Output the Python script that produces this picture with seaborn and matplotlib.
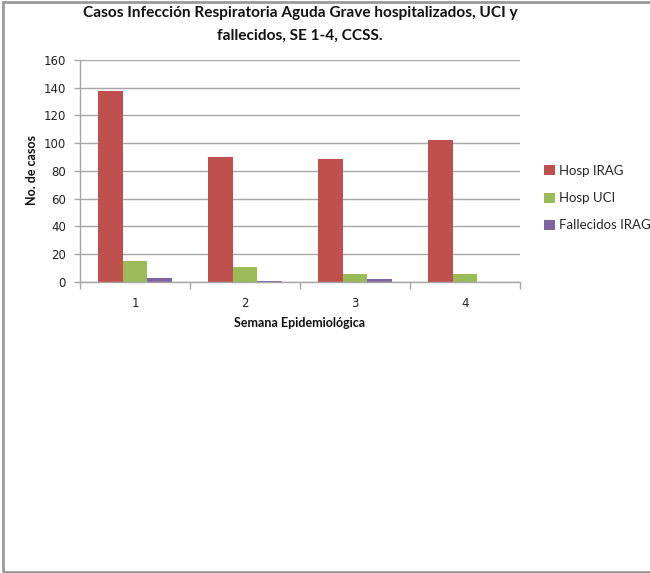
import matplotlib
matplotlib.use("Agg")
import matplotlib.pyplot as plt
from matplotlib.patches import Rectangle, Patch
import seaborn as sns
import pandas as pd

weeks = ["1", "2", "3", "4"]
hosp_irag = [138, 90, 89, 102]
hosp_uci = [15, 11, 6, 6]
fallecidos_irag = [3, 1, 2, 0]
series_names = ["Hosp IRAG", "Hosp UCI", "Fallecidos IRAG"]
colors = ["#C0504D", "#9BBB59", "#8064A2"]

df = pd.DataFrame({
    "Semana": weeks * 3,
    "Casos": hosp_irag + hosp_uci + fallecidos_irag,
    "Serie": [s for s in series_names for _ in weeks],
})

sns.set_theme(style="white")
plt.rcParams["font.family"] = ["Lato", "DejaVu Sans"]

fig = plt.figure(figsize=(6.5, 5.73), dpi=100)
W, H = 650, 573
ax = fig.add_axes([80 / W, 1 - 282 / H, 440 / W, 222 / H])

sns.barplot(data=df, x="Semana", y="Casos", hue="Serie", palette=colors,
            width=0.667, gap=0, saturation=1, ax=ax, legend=False,
            edgecolor="none", linewidth=0)

grid_c = "#A6A6A6"
ax.set_ylim(0, 160)
ax.set_yticks(range(0, 161, 20))
ax.yaxis.grid(True, color=grid_c, linewidth=1)
ax.set_axisbelow(True)
for s in ["top", "right"]:
    ax.spines[s].set_visible(False)
ax.spines["left"].set_color(grid_c)
ax.spines["bottom"].set_color(grid_c)
ax.spines["left"].set_linewidth(1)
ax.spines["bottom"].set_linewidth(1)

ax.set_xlim(-0.5, 3.5)
ax.set_xticks([-0.5, 0.5, 1.5, 2.5, 3.5])
ax.set_xticklabels([])
ax.set_xticks(range(4), minor=True)
ax.set_xticklabels(weeks, minor=True, fontsize=8.5, color="#222222",
                   family=["DejaVu Sans"])
ax.tick_params(axis="x", which="major", length=5, width=1, color=grid_c,
               direction="out", bottom=True)
ax.tick_params(axis="x", which="minor", length=0, pad=11)
ax.tick_params(axis="y", length=4, width=1, color=grid_c, direction="out",
               left=True, labelsize=8.5, labelcolor="#222222", pad=6)
for lab in ax.get_yticklabels():
    lab.set_family(["DejaVu Sans"])

ax.set_xlabel("")
ax.set_ylabel("")

fig.text(300 / W, 1 - 323 / H, "Semana Epidemiológica", ha="center",
         va="center", fontsize=9, fontweight="bold", color="#111111")
fig.text(32 / W, 1 - 170 / H, "No. de casos", ha="center", va="center",
         rotation=90, fontsize=9, fontweight="bold", color="#111111")
fig.text(300 / W, 1 - 13 / H, "Casos Infección Respiratoria Aguda Grave hospitalizados, UCI y",
         ha="center", va="center", fontsize=11.1, fontweight="bold", color="#111111")
fig.text(300 / W, 1 - 36 / H, "fallecidos, SE 1-4, CCSS.",
         ha="center", va="center", fontsize=11.1, fontweight="bold", color="#111111")

handles = [Patch(facecolor=c, edgecolor="none") for c in colors]
fig.legend(handles, series_names, loc="upper left",
           bbox_to_anchor=(544 / W, 1 - 165 / H), frameon=False,
           fontsize=9.5, handlelength=0.8, handleheight=0.8,
           handletextpad=0.3, labelspacing=1.15, borderaxespad=0,
           borderpad=0)

# outer chart frame
fig.patches.append(Rectangle((3 / W, 1 / H), 660 / W, 570 / H,
                             transform=fig.transFigure, fill=False,
                             edgecolor="#999999", linewidth=2))

fig.savefig("out.png", dpi=100)
